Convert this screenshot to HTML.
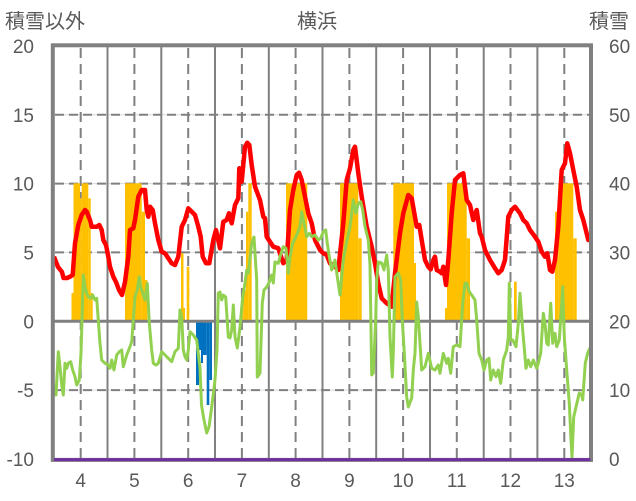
<!DOCTYPE html>
<html><head><meta charset="utf-8"><style>
html,body{margin:0;padding:0;background:#fff;}
svg{display:block;}
text{font-family:"Liberation Sans","Noto Sans CJK JP",sans-serif;fill:#595959;}
</style></head><body>
<svg width="636" height="501" viewBox="0 0 636 501" xmlns="http://www.w3.org/2000/svg">
<rect width="636" height="501" fill="#fff"/>
<!-- horizontal gridlines -->
<g stroke="#D9D9D9" stroke-width="1">
<line x1="54" y1="114.8" x2="590" y2="114.8"/><line x1="54" y1="183.6" x2="590" y2="183.6"/>
<line x1="54" y1="252.4" x2="590" y2="252.4"/><line x1="54" y1="390.1" x2="590" y2="390.1"/>
</g>
<g stroke="#808080" stroke-width="2" stroke-dasharray="9,5">
<line x1="55" y1="114.8" x2="590" y2="114.8"/><line x1="55" y1="183.6" x2="590" y2="183.6"/>
<line x1="55" y1="252.4" x2="590" y2="252.4"/><line x1="55" y1="390.1" x2="590" y2="390.1"/>
</g>
<!-- vertical gridlines -->
<g stroke="#808080" stroke-width="2">
<line x1="107.5" y1="46" x2="459" y2="459" transform="translate(0,0)" style="display:none"/>
<line x1="107.5" y1="46" x2="107.5" y2="459"/><line x1="161.3" y1="46" x2="161.3" y2="459"/>
<line x1="215" y1="46" x2="215" y2="459"/><line x1="268.8" y1="46" x2="268.8" y2="459"/>
<line x1="322.5" y1="46" x2="322.5" y2="459"/><line x1="376.2" y1="46" x2="376.2" y2="459"/>
<line x1="430" y1="46" x2="430" y2="459"/><line x1="483.7" y1="46" x2="483.7" y2="459"/>
<line x1="537.4" y1="46" x2="537.4" y2="459"/>
</g>
<g stroke="#808080" stroke-width="2" stroke-dasharray="10,6">
<line x1="80.7" y1="48" x2="80.7" y2="459"/><line x1="134.4" y1="48" x2="134.4" y2="459"/>
<line x1="188.2" y1="48" x2="188.2" y2="459"/><line x1="241.9" y1="48" x2="241.9" y2="459"/>
<line x1="295.6" y1="48" x2="295.6" y2="459"/><line x1="349.4" y1="48" x2="349.4" y2="459"/>
<line x1="403.1" y1="48" x2="403.1" y2="459"/><line x1="456.8" y1="48" x2="456.8" y2="459"/>
<line x1="510.5" y1="48" x2="510.5" y2="459"/><line x1="564.3" y1="48" x2="564.3" y2="459"/>
</g>
<!-- yellow bars -->
<g fill="#FFC000">
<rect x="71.5" y="293" width="2" height="28.3"/>
<rect x="73.5" y="183.3" width="6.5" height="138"/>
<rect x="80" y="198.3" width="1.7" height="123"/>
<rect x="81.7" y="183.3" width="6.6" height="138"/>
<rect x="88.3" y="198.3" width="2.4" height="123"/>
<rect x="90.7" y="293" width="2" height="28.3"/>
<rect x="125" y="183.3" width="16.7" height="138"/>
<rect x="141.7" y="211.7" width="3.3" height="109.6"/>
<rect x="145" y="280" width="2.3" height="41.3"/>
<rect x="181" y="253.3" width="2.5" height="68"/>
<rect x="183.5" y="308" width="1.5" height="13.3"/>
<rect x="186.7" y="266.7" width="2.6" height="54.6"/>
<rect x="240" y="308" width="3.3" height="13.3"/>
<rect x="243.3" y="290" width="2.7" height="31.3"/>
<rect x="246" y="211.7" width="2.3" height="109.6"/>
<rect x="248.3" y="183.3" width="3.4" height="138"/>
<rect x="286" y="183.3" width="21.3" height="138"/>
<rect x="340" y="183.3" width="18.3" height="138"/>
<rect x="358.3" y="238.3" width="3.4" height="83"/>
<rect x="393.3" y="183.3" width="20.7" height="138"/>
<rect x="414" y="263" width="2" height="58.3"/>
<rect x="445" y="308" width="2" height="13.3"/>
<rect x="447" y="183.3" width="19.7" height="138"/>
<rect x="466.7" y="238.3" width="3.3" height="83"/>
<rect x="508.3" y="281.7" width="1.7" height="39.6"/>
<rect x="514" y="281.7" width="2.7" height="39.6"/>
<rect x="555" y="211.7" width="3.3" height="109.6"/>
<rect x="558.3" y="183.3" width="15" height="138"/>
<rect x="573.3" y="238.3" width="3.4" height="83"/>
</g>
<!-- blue bars -->
<g fill="#0070C0">
<rect x="196" y="321.3" width="3" height="63.7"/>
<rect x="199" y="321.3" width="2" height="28.7"/>
<rect x="201" y="321.3" width="2" height="41.7"/>
<rect x="203" y="321.3" width="3.7" height="33.7"/>
<rect x="206.7" y="321.3" width="2.6" height="83.7"/>
<rect x="209.3" y="321.3" width="2.7" height="58.7"/>
</g>
<!-- zero line -->
<line x1="54" y1="321.3" x2="590" y2="321.3" stroke="#808080" stroke-width="3"/>
<!-- red line -->
<polyline fill="none" stroke="#FF0000" stroke-width="4.5" stroke-linejoin="round" points="54,256.7 58,267 62,272 63.5,278 67,278 70,276.7 72.7,275 75,243.3 78.3,225 81.7,215 85,210 86.7,211.7 90,220 91.7,226.7 96.7,226.7 99.3,225 101.7,230 103.3,240 106,245 108.3,256.7 110,266.7 113.3,276.7 116,282 119,290 122,295 125,282 128.3,256.7 130,230 133.3,228.3 135,220 138.3,196.7 141.7,190 145,190 146.7,210 148.3,216.7 150,206.7 152.7,210 155,223.3 158.3,240 161.7,251.7 165,253.3 168.3,258.3 171.7,263.3 175,265 178.3,256.7 181.7,226.7 185,220 188.3,208.3 191.7,211.7 195,215 198.3,226.7 200.7,236.7 202.7,256.7 206,263.3 209.3,263.3 213.3,240 216,230 220,248.3 223.3,221.7 226.7,220 229,213.3 231.7,223.3 235,205 238.3,198.3 239.3,168.3 241.7,181.7 245,146.7 247.3,142.7 249.3,145 251.7,165 255,186.7 260,200 263.3,216.7 265,218.3 266.7,236.7 270,241.7 273.3,246.7 278.3,248.3 283.3,263.3 286.7,260 290,210 293.3,190 296.7,175 299,172.7 301.7,180 305,196.7 308.3,213.3 311.7,223.3 315,240 320,250 323.3,253.3 326.7,255 330,263.3 335,266.7 338.3,270 343.3,223.3 346.7,180 350,168.3 353.3,150 355,146.7 358.3,173.3 361.7,196.7 366.7,226.7 371.7,246.7 375,263.3 378.3,283.3 381.7,298.3 386.7,303.3 391.7,306.7 393.3,290 395,273.3 400,233.3 403.3,213.3 408.3,195 411.7,198.3 416.7,226.7 419.3,225 421.7,240 425,260 428.3,266.7 430.7,269.3 433.3,260 435,256.7 436.7,270 440,271.7 441.7,273.3 443.3,266.7 446,285 448.3,260 451.7,213.3 455,180 460,175 463.3,173.3 466.7,200 470,205 473.3,220 476.7,210 480,233.3 481.7,236.7 485,250 490,260 495,268.3 498.3,273.3 501.7,270 505,260 508.3,216.7 511.7,210 515,206.7 520,213.3 523.3,220 526.7,223.3 530,230 535,236.7 538.3,241.7 541.7,251.7 545,256.7 547.3,253.3 550,270 552.3,271.7 555,260 558.3,226.7 561.7,170 565,163.3 567.3,143.3 570,153.3 573.3,170 576.7,186.7 580,210 583.3,220 588.3,240 590,240"/>
<!-- green line -->
<polyline fill="none" stroke="#92D050" stroke-width="3" stroke-linejoin="round" points="53.3,385 56,395 58.3,351.7 60,366.7 61.7,385 63.3,395 65,363.3 66.7,368.3 68.3,363.3 70.7,361.7 72.7,370 75,376.7 76.7,385 79.3,380 81,353.3 82.3,310 83.3,275 85,286.7 86.7,293.3 88.3,296.7 90.7,298.3 92.7,295 95,300 96.7,298.3 98.3,320 100,343.3 101.7,360 105,363.3 108.3,365 110,368.3 111.7,360 114,370 116.7,355 119.3,351.7 121.7,350 123.3,366.7 126.7,355 130,346.7 131.7,341.7 133.3,320 135,296.7 137.3,290 139.3,276.7 140.7,286.7 142.7,293.3 145,300 147.3,283.3 149.3,323.3 151.7,350 153.3,363.3 156,365 158.3,363.3 161.7,351.7 165,355 168.3,358.3 171.7,361.7 175,351.7 178.3,348.3 180,310 181.7,316.7 183.3,350 185,356.7 186.7,360 188.3,350 190,331.7 193.3,335 196.7,340 200,368 201.5,405 204,420 206.7,433 209,427 211.7,407 215,380 217,350 218.3,293 220,292 221.7,300 223.3,295 225.7,297 228.3,337 230,338 231.7,330 233.3,305 235,337 237.3,348 240,327 242.7,297 245,283 246.7,270 248.3,273 251.7,243 254,237 256.7,280 257.3,377 260,373 262.3,303 264,290 266.7,287 269.3,282 271.7,275 273.3,283 275,262 278.3,263.3 280,256.7 283.3,246.7 286,248.3 288.3,273.3 290,256.7 292.7,243.3 296,236.7 300,226.7 301.7,211.7 304,223.3 306.7,236.7 309.3,233.3 311.7,236.7 315,235 318.3,240 320.7,238.3 323.3,231.7 325.7,230 327.3,243.3 329.3,256.7 331.7,270 335,260 337.3,276.7 340,295 343.3,260 346.7,241.7 350,226.7 353.3,200 356,213.3 358.3,203.3 360.7,201.7 362.7,210 365,226.7 368.3,240 370,265 371.7,375 373.3,373 375.7,320 376.7,280 378.3,262 381.7,263 384,270 386.7,255 388.3,270 390,337 392.3,377 393.3,353 395,277 398.3,273 400.7,280 402.3,320 404.3,353 406.7,397 408.3,407 411.7,398 413.3,370 415,353 416.7,302 418.3,317 421.7,370 425,366.7 428.3,353.3 431.7,368.3 435,370 438.3,365 440,373.3 443.3,353.3 446.7,363.3 448.3,358.3 450.7,373.3 453.3,346.7 456.7,345 460,346.7 462.7,303.3 465,283.3 466.7,283.3 469.3,291.7 471.7,295 475,300 476.7,320 479,353.3 481.7,360 484,370 486.7,360 489,358.3 490.7,380 493.3,370 496,376.7 498.3,370 500.7,383.3 503.3,360 506.7,350 508.3,336.7 509.3,283.3 510.7,340 512.7,340 516,346.7 518.3,323.3 520,293.3 522.7,330 526,368.3 528.3,360 530.7,366.7 533.3,360 536.7,368.3 538.3,363.3 540.7,353.3 543.3,313.3 545,323.3 546.7,343.3 548.3,345 550.7,303.3 552.7,343.3 555,333.3 556.7,346.7 559.3,340 561.7,303.3 562.7,286.7 564.3,336.7 566.7,370 569.3,403.3 571,440 572,457 573.7,417 576,407 579.3,393 581.7,395 582.7,400 585.3,363 587.7,353 590,348"/>
<!-- frame -->
<rect x="52.8" y="45.3" width="538.2" height="414.6" fill="none" stroke="#808080" stroke-width="4"/>
<line x1="54" y1="459.6" x2="590.5" y2="459.6" stroke="#7030A0" stroke-width="3"/>
<!-- titles -->
<text x="5" y="28" font-size="20">積雪以外</text>
<text x="317" y="28" font-size="20" text-anchor="middle">横浜</text>
<text x="589" y="28" font-size="20">積雪</text>
<!-- left axis -->
<g font-size="19" text-anchor="end">
<text x="34" y="53">20</text>
<text x="34" y="121.8">15</text>
<text x="34" y="190.6">10</text>
<text x="34" y="259.4">5</text>
<text x="34" y="328.3">0</text>
<text x="34" y="397.1">-5</text>
<text x="34" y="466">-10</text>
</g>
<!-- right axis -->
<g font-size="19">
<text x="609" y="53">60</text>
<text x="609" y="121.8">50</text>
<text x="609" y="190.6">40</text>
<text x="609" y="259.4">30</text>
<text x="609" y="328.3">20</text>
<text x="609" y="397.1">10</text>
<text x="609" y="466">0</text>
</g>
<!-- x axis -->
<g font-size="19" text-anchor="middle">
<text x="80.7" y="487">4</text>
<text x="134.4" y="487">5</text>
<text x="188.2" y="487">6</text>
<text x="241.9" y="487">7</text>
<text x="295.6" y="487">8</text>
<text x="349.4" y="487">9</text>
<text x="403.1" y="487">10</text>
<text x="456.8" y="487">11</text>
<text x="510.5" y="487">12</text>
<text x="564.3" y="487">13</text>
</g>
</svg>
</body></html>
